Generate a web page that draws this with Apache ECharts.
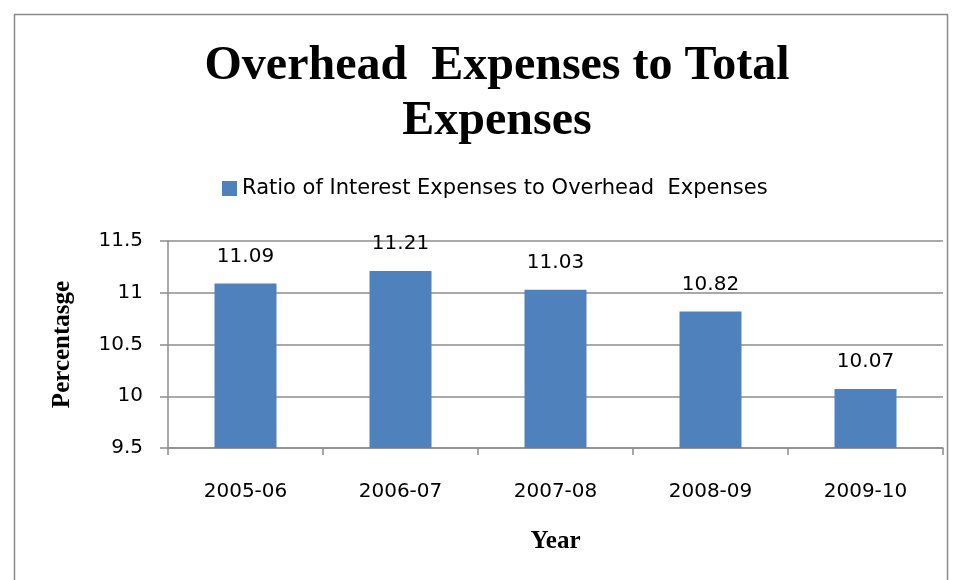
<!DOCTYPE html>
<html>
<head>
<meta charset="utf-8">
<script src="https://cdn.jsdelivr.net/npm/echarts@6/dist/echarts.min.js"></script>
<style>
  html, body { margin: 0; padding: 0; background: #fff; }
  #chart { width: 957px; height: 580px; }
</style>
</head>
<body>
<div id="chart"></div>
<script>
// Fiscal years on the category axis
const years = ['2005-06', '2006-07', '2007-08', '2008-09', '2009-10'];
// Ratio of interest expenses to overhead expenses (%)
const ratios = [11.09, 11.21, 11.03, 10.82, 10.07];
// Value axis range and step
const yMin = 9.5;
const yMax = 11.5;
const yStep = 0.5;

const seriesName = 'Ratio of Interest Expenses to Overhead  Expenses';
const bodyFont = '"DejaVu Sans", "Open Sans", sans-serif';
const serifFont = '"Liberation Serif", "DejaVu Serif", serif';

const chart = echarts.init(document.getElementById('chart'), null, { renderer: 'canvas' });

chart.setOption({
  animation: false,
  backgroundColor: '#ffffff',
  graphic: [{
    type: 'rect',
    left: 12, top: 12,
    shape: { width: 933, height: 600 },
    style: { fill: 'none', stroke: '#8a8a8a', lineWidth: 1.5 },
    silent: true
  }],
  title: {
    text: 'Overhead  Expenses to Total\nExpenses',
    left: 492, top: 34,
    textAlign: 'center',
    textStyle: {
      fontFamily: serifFont, fontWeight: 'bold', fontSize: 48,
      lineHeight: 55, color: '#000'
    }
  },
  legend: {
    data: [seriesName],
    top: 173, left: 217,
    icon: 'rect', itemWidth: 15, itemHeight: 15, itemGap: 6,
    textStyle: { fontFamily: bodyFont, fontSize: 21, color: '#000' }
  },
  grid: { left: 168, right: 14, top: 241, bottom: 132, containLabel: false },
  xAxis: {
    type: 'category',
    data: years,
    name: 'Year',
    nameLocation: 'middle',
    nameGap: 81,
    nameTextStyle: { fontFamily: serifFont, fontWeight: 'bold', fontSize: 25, color: '#000' },
    axisLine: { lineStyle: { color: '#8c8c8c', width: 1.5 } },
    axisTick: { show: true, alignWithLabel: false, length: 7, lineStyle: { color: '#8c8c8c', width: 1.5 } },
    axisLabel: { fontFamily: bodyFont, fontSize: 20, color: '#000', margin: 34 }
  },
  yAxis: {
    type: 'value',
    min: yMin, max: yMax, interval: yStep,
    name: 'Percentasge',
    nameLocation: 'middle',
    nameGap: 93,
    nameRotate: 90,
    nameTextStyle: { fontFamily: serifFont, fontWeight: 'bold', fontSize: 25, color: '#000' },
    axisLine: { show: true, lineStyle: { color: '#8c8c8c', width: 1.5 } },
    axisTick: { show: true, length: 8, lineStyle: { color: '#8c8c8c', width: 1.5 } },
    axisLabel: { fontFamily: bodyFont, fontSize: 20, color: '#000', margin: 25 },
    splitLine: { show: true, lineStyle: { color: '#8c8c8c', width: 1.5 } }
  },
  series: [{
    name: seriesName,
    type: 'bar',
    data: ratios,
    barWidth: '40%',
    itemStyle: { color: '#4f81bd' },
    label: {
      show: true, position: 'top', distance: 17,
      fontFamily: bodyFont, fontSize: 20, color: '#000',
      formatter: p => p.value.toFixed(2)
    }
  }]
});
</script>
</body>
</html>
